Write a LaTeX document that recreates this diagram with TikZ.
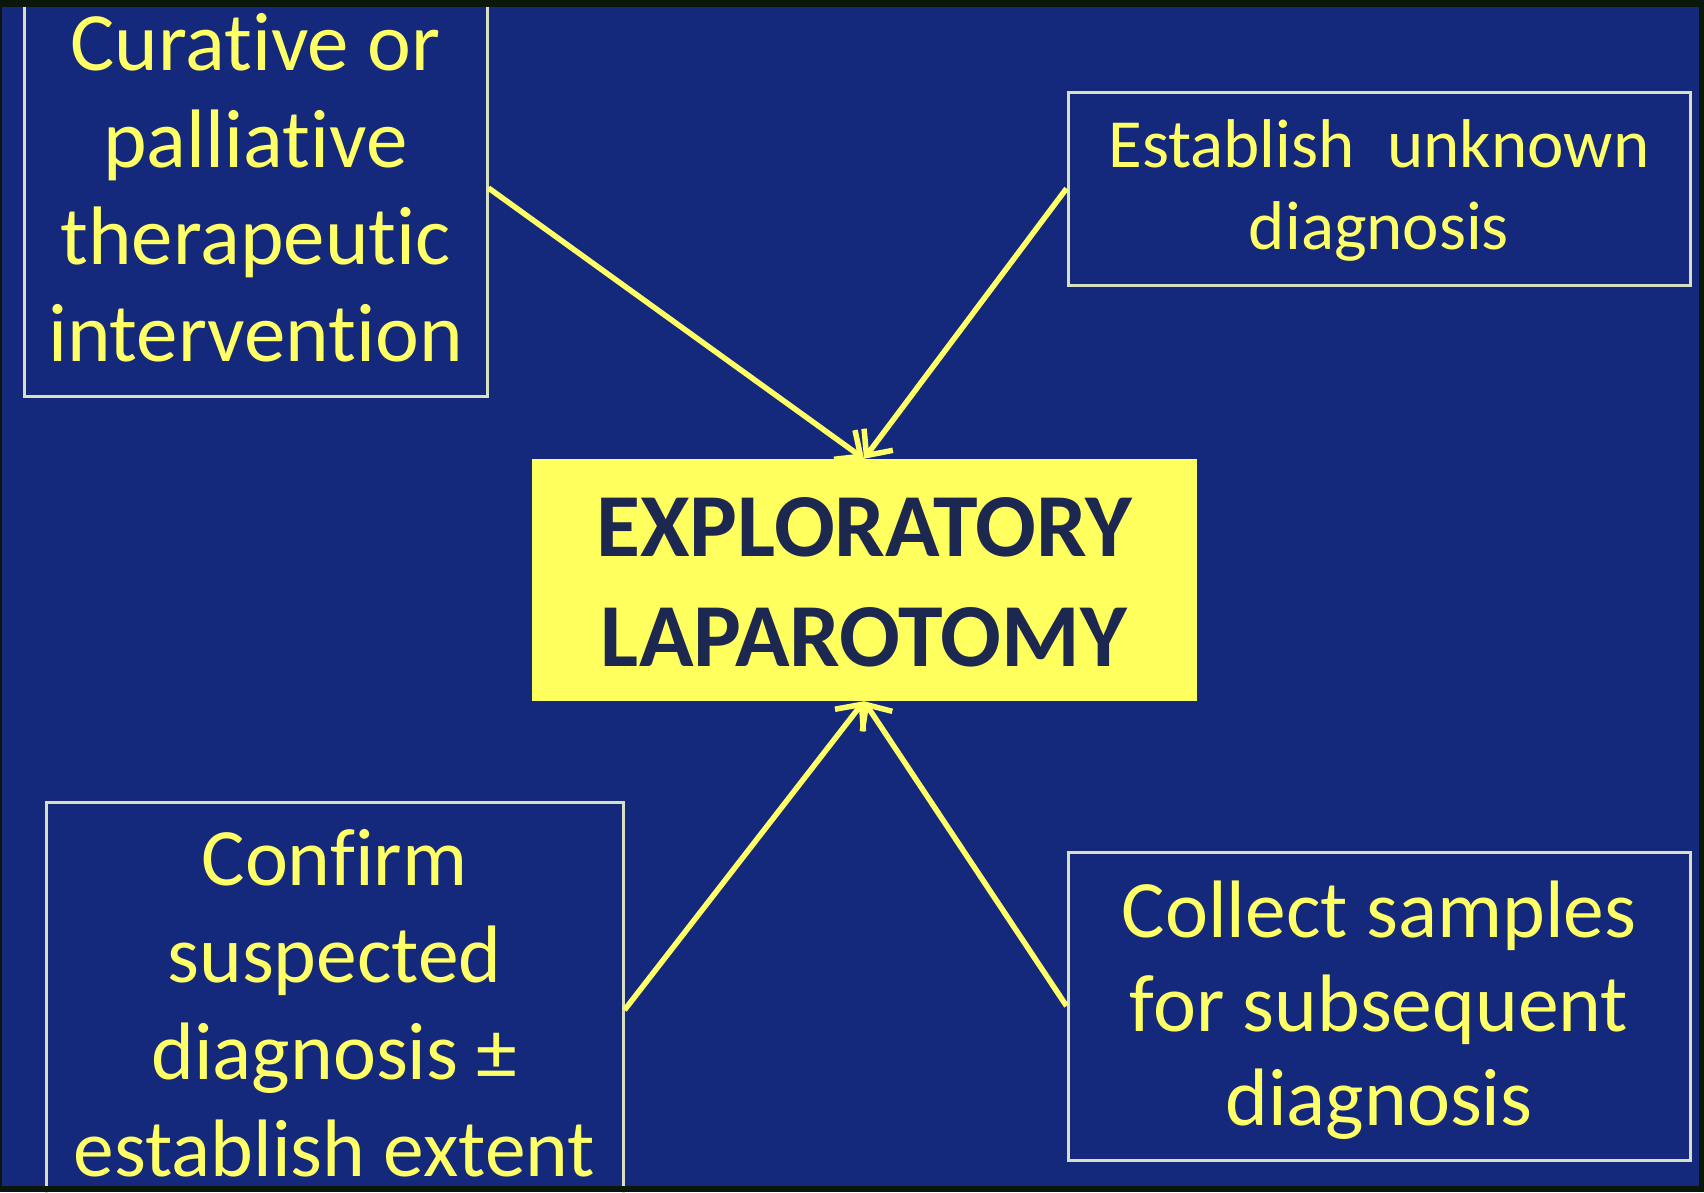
\documentclass[tikz,border=0pt]{standalone}
\usepackage{fontspec}
\setmainfont{Carlito}[Ligatures=NoCommon]
\usetikzlibrary{arrows.meta}
\definecolor{bg}{HTML}{14297C}
\definecolor{txt}{HTML}{FFFF66}
\definecolor{cfill}{HTML}{FFFF5E}
\definecolor{ctxt}{HTML}{1C2850}
\definecolor{frm}{HTML}{D8E0C4}
\definecolor{edge}{HTML}{0B170A}
\tikzset{
  frame/.style={draw=frm, line width=3pt, inner sep=0pt, rectangle},
  label/.style={text=txt, inner sep=0pt, anchor=base, align=center},
  arr/.style={draw=txt, line width=5.5pt, -{Straight Barb[length=20pt,width=36pt]}},
}
\begin{document}
\begin{tikzpicture}[x=1pt,y=-1pt]
\useasboundingbox (0,0) rectangle (1704,1192);
\fill[bg] (0,0) rectangle (1704,1192);
% boxes
\node[frame, minimum width=463pt, minimum height=416pt] (tl) at (255.5,188) {};
\node[frame, minimum width=622pt, minimum height=193pt] (tr) at (1379,188.5) {};
\node[frame, minimum width=577pt, minimum height=416pt] (bl) at (334.5,1010) {};
\node[frame, minimum width=622pt, minimum height=308pt] (br) at (1379,1006) {};
\node[fill=cfill, inner sep=0pt, minimum width=665pt, minimum height=242pt] (c) at (864,580) {};
% texts (anchor = baseline of last line)
\node[label, font=\fontsize{83}{97}\selectfont] (tltext) at (255.5,361)
  {Curative or\\palliative\\therapeutic\\intervention};
\node[label, font=\fontsize{69}{82}\selectfont] (trtext) at (1379,249)
  {Establish\hspace{0.25em} unknown\\diagnosis};
\node[label, font=\fontsize{81.5}{97}\selectfont] (bltext) at (334.5,1176)
  {Confirm\\suspected\\diagnosis ±\\establish extent};
\node[label, font=\fontsize{81.5}{94}\selectfont] (brtext) at (1379,1125)
  {Collect samples\\for subsequent\\diagnosis};
\node[label, text=ctxt, font=\fontsize{90}{110}\bfseries\selectfont] (ctext) at (864,666)
  {EXPLORATORY\\LAPAROTOMY};
% connectors
\draw[arr] (tl.east) -- (c.north);
\draw[arr] (tr.west) -- (c.north);
\draw[arr] (bl.east) -- (c.south);
\draw[arr] (br.west) -- (c.south);
% dark edges
\fill[edge] (0,0) rectangle (1704,7);
\fill[edge] (0,0) rectangle (2,1192);
\fill[edge] (1699,0) rectangle (1704,1192);
\fill[edge] (0,1186) rectangle (1704,1192);
\end{tikzpicture}
\end{document}
